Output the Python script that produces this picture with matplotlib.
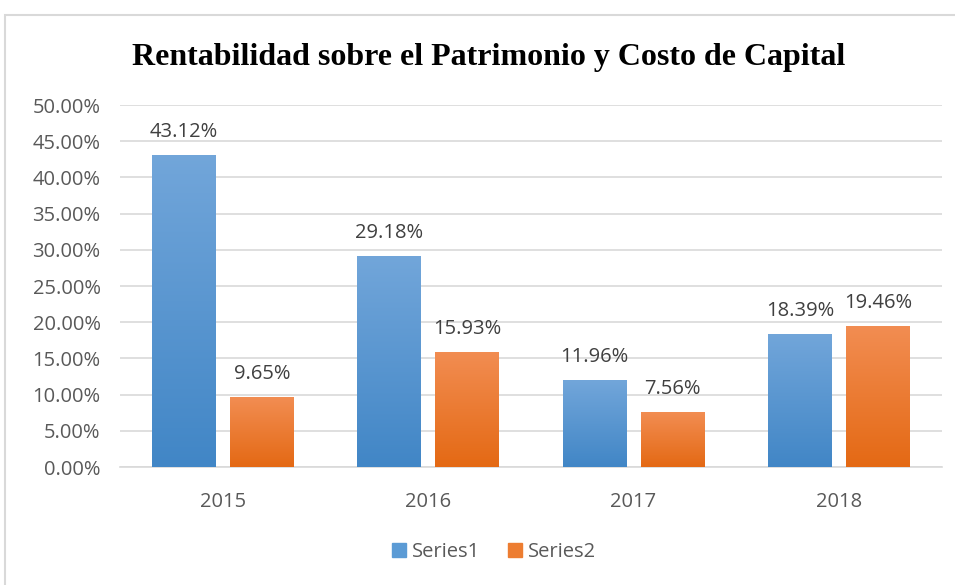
import numpy as np
import matplotlib.pyplot as plt
from matplotlib.patches import Rectangle, Patch
from matplotlib.colors import LinearSegmentedColormap

years = ["2015", "2016", "2017", "2018"]
series1 = [43.12, 29.18, 11.96, 18.39]
series2 = [9.65, 15.93, 7.56, 19.46]
yticks = [0, 5, 10, 15, 20, 25, 30, 35, 40, 45, 50]

blue_top, blue_bot = "#72A6DA", "#4186C6"
orange_top, orange_bot = "#F28D52", "#E46914"
FONT = "Open Sans"
FS = 14.5

fig = plt.figure(figsize=(9.55, 5.85), dpi=100)
ax = fig.add_axes([0.1257, 0.2017, 0.8603, 0.6188])

# chart border
fig.patches.append(Rectangle((5 / 955, -0.1), 1.1, 1 - 15 / 585 + 0.1,
                             transform=fig.transFigure, fill=False,
                             edgecolor="#D9D9D9", linewidth=1.5))

x = np.arange(len(years))
w = 0.31
off = 0.19
b1 = ax.bar(x - off, series1, w, color=blue_bot, zorder=3)
b2 = ax.bar(x + off, series2, w, color=orange_bot, zorder=3)


def gradient(bars, top, bot):
    cmap = LinearSegmentedColormap.from_list("g", [bot, top])
    grad = np.linspace(0, 1, 256).reshape(-1, 1)
    for bar in bars:
        bx, by = bar.get_xy()
        bw, bh = bar.get_width(), bar.get_height()
        im = ax.imshow(grad, cmap=cmap, aspect="auto", origin="lower",
                       extent=[bx, bx + bw, by, by + bh], zorder=3.5)
        im.set_clip_path(bar)


gradient(b1, blue_top, blue_bot)
gradient(b2, orange_top, orange_bot)

for xs, vals in [(x - off, series1), (x + off, series2)]:
    for xi, v in zip(xs, vals):
        ax.annotate(f"{v:.2f}%", (xi, v), xytext=(0, 13), textcoords="offset points",
                    ha="center", va="baseline", fontsize=FS, color="#404040",
                    family=FONT, zorder=5)

ax.set_xlim(-0.5, 3.5)
ax.set_ylim(0, 50)
ax.set_yticks(yticks)
ax.set_yticklabels([f"{t:.2f}%" for t in yticks])
ax.set_xticks(x)
ax.set_xticklabels(years)
ax.tick_params(length=0, labelsize=FS, labelcolor="#595959")
ax.tick_params(axis="y", pad=14)
ax.tick_params(axis="x", pad=18)
for lab in ax.get_xticklabels() + ax.get_yticklabels():
    lab.set_family(FONT)
ax.grid(axis="y", color="#D9D9D9", linewidth=1.2, zorder=0)
for s in ["top", "right", "left"]:
    ax.spines[s].set_visible(False)
ax.spines["bottom"].set_color("#D9D9D9")
ax.spines["bottom"].set_linewidth(1.2)

fig.text(489 / 955, 1 - 57 / 585, "Rentabilidad sobre el Patrimonio y Costo de Capital",
         ha="center", va="center", fontsize=23, fontweight="bold",
         family="Liberation Serif", color="black")

handles = [Patch(color="#5B9BD5", label="Series1"),
           Patch(color="#ED7D31", label="Series2")]
leg = fig.legend(handles=handles, loc="center", bbox_to_anchor=(494 / 955, 1 - 552 / 585),
                 ncol=2, frameon=False, handlelength=0.7, handleheight=0.7,
                 handletextpad=0.3, columnspacing=1.4,
                 prop={"family": FONT, "size": FS})
for t in leg.get_texts():
    t.set_color("#595959")

fig.savefig("out.png", dpi=100)
